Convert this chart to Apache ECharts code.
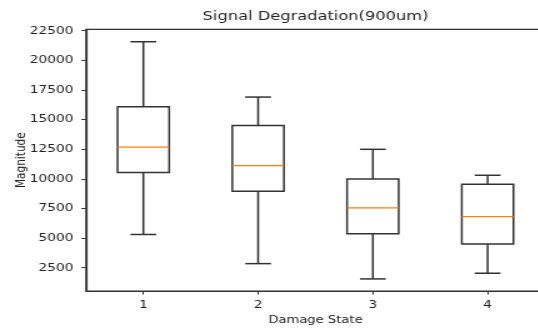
<!DOCTYPE html>
<html>
<head>
<meta charset="utf-8">
<script src="https://cdn.jsdelivr.net/npm/echarts@6/dist/echarts.min.js"></script>
<style>
  html, body { margin: 0; padding: 0; background: #fff; overflow: hidden; }
  #wrap { width: 538px; height: 332px; overflow: hidden; position: relative; }
  #chart { width: 430.4px; height: 332px; transform: scaleX(1.25); transform-origin: 0 0; }
</style>
</head>
<body>
<div id="wrap"><div id="chart"></div></div>
<script>
// ---- data ----
const categories = ['1', '2', '3', '4'];
const whiskerLow  = [5300, 2840, 1550, 2030];
const q1Values    = [10540, 8950, 5370, 4500];
const medians     = [12680, 11110, 7540, 6800];
const q3Values    = [16080, 14510, 9980, 9540];
const whiskerHigh = [21570, 16900, 12490, 10300];
const yTickStep = 2500;
const yMin = 530, yMax = 22620;
const titleText = 'Signal Degradation(900um)';
const xName = 'Damage State';
const yName = 'Magnitude';

const boxData = categories.map((c, i) => [i, whiskerLow[i], q1Values[i], medians[i], q3Values[i], whiskerHigh[i]]);

const LINE = '#333333';
const FONT = 'DejaVu Sans';

const chart = echarts.init(document.getElementById('chart'));
chart.setOption({
  animation: false,
  backgroundColor: '#ffffff',
  title: {
    text: titleText,
    left: 252.4,
    textAlign: 'center',
    top: 10,
    padding: 0,
    textStyle: { fontFamily: FONT, fontSize: 13, fontWeight: 'normal', color: '#222', lineHeight: 13 }
  },
  grid: {
    left: 68.8, top: 29.3, width: 367.2, height: 261.7,
    outerBoundsMode: 'none',
    containLabel: false,
    show: true, borderColor: LINE, borderWidth: 1.2, backgroundColor: 'transparent'
  },
  xAxis: {
    type: 'category',
    data: categories,
    boundaryGap: true,
    name: xName,
    nameLocation: 'middle',
    nameGap: 24,
    nameMoveOverlap: false,
    nameTextStyle: { fontFamily: FONT, fontSize: 10.5, color: '#222' },
    axisLine: { show: true, lineStyle: { color: LINE, width: 1.2 } },
    axisTick: { show: true, alignWithLabel: true, length: 3.5, lineStyle: { color: LINE, width: 1 } },
    axisLabel: { fontFamily: FONT, fontSize: 11, color: '#222', margin: 9 },
    splitLine: { show: false }
  },
  yAxis: {
    type: 'value',
    min: yMin, max: yMax,
    minInterval: yTickStep, maxInterval: yTickStep,
    splitNumber: 8,
    name: yName,
    nameLocation: 'middle',
    nameGap: 46,
    nameMoveOverlap: false,
    nameTextStyle: { fontFamily: FONT, fontSize: 10.5, color: '#222' },
    axisLine: { show: true, lineStyle: { color: LINE, width: 1.2 } },
    axisTick: { show: true, length: 3.6, lineStyle: { color: LINE, width: 1 } },
    axisLabel: {
      fontFamily: FONT, fontSize: 11, color: '#222', margin: 10,
      showMinLabel: false, showMaxLabel: false,
      formatter: function (v) { return String(Math.round(v)); }
    },
    splitLine: { show: false }
  },
  series: [{
    type: 'custom',
    data: boxData,
    encode: { x: 0, y: [1, 2, 3, 4, 5] },
    renderItem: function (params, api) {
      const idx = api.value(0);
      const band = api.size([1, 0])[0];
      const cx = api.coord([idx, api.value(3)])[0];
      const bw = band * 0.45, cw = band * 0.225;
      const yLo = api.coord([idx, api.value(1)])[1];
      const yQ1 = api.coord([idx, api.value(2)])[1];
      const yMed = api.coord([idx, api.value(3)])[1];
      const yQ3 = api.coord([idx, api.value(4)])[1];
      const yHi = api.coord([idx, api.value(5)])[1];
      const ls = { stroke: LINE, lineWidth: 1.5, fill: null };
      return {
        type: 'group',
        children: [
          { type: 'line', shape: { x1: cx, y1: yQ1, x2: cx, y2: yLo }, style: ls },
          { type: 'line', shape: { x1: cx, y1: yQ3, x2: cx, y2: yHi }, style: ls },
          { type: 'line', shape: { x1: cx - cw / 2, y1: yLo, x2: cx + cw / 2, y2: yLo }, style: ls },
          { type: 'line', shape: { x1: cx - cw / 2, y1: yHi, x2: cx + cw / 2, y2: yHi }, style: ls },
          { type: 'rect', shape: { x: cx - bw / 2, y: yQ3, width: bw, height: yQ1 - yQ3 }, style: { stroke: LINE, lineWidth: 1.5, fill: 'transparent' } },
          { type: 'line', shape: { x1: cx - bw / 2, y1: yMed, x2: cx + bw / 2, y2: yMed }, style: { stroke: '#ff7f0e', lineWidth: 1.3 } }
        ]
      };
    }
  }]
});
</script>
</body>
</html>
